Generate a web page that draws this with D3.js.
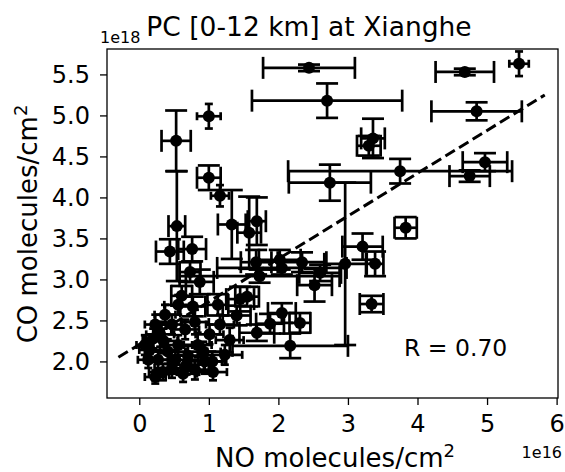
<!DOCTYPE html>
<html>
<head>
<meta charset="utf-8">
<script src="https://cdn.jsdelivr.net/npm/d3@7"></script>
<style>
  body { margin: 0; background: #fff; }
  text { font-family: "DejaVu Sans", sans-serif; fill: #000; }
</style>
</head>
<body>
<div class="chart"></div>
<script>
// NO column (1e16 molec/cm2) vs CO column (1e18 molec/cm2), with 1-sigma errors
var noX = [2.44, 2.70, 4.68, 5.46, 4.85, 4.97, 4.75, 3.75, 3.36, 3.30, 2.74, 3.83, 3.21, 3.39, 3.34, 2.96, 2.17,
    1.00, 0.53, 1.00, 1.16, 1.33, 0.54, 1.69, 1.58, 0.44, 0.76, 1.68, 0.73, 0.87, 0.61, 0.77, 1.13, 1.45, 1.55,
    1.40, 1.69, 1.88, 2.05, 2.31, 2.02, 2.34, 2.52, 2.60, 2.05, 1.73,
    0.23, 0.34, 0.47, 0.63, 0.80, 0.94, 1.06, 0.15, 0.27, 0.41, 0.56, 0.70, 0.84, 1.01, 0.30, 0.47, 0.66, 0.80,
    0.37, 0.56, 0.23, 1.23, 1.30, 1.16, 0.13, 0.08, 0.92, 1.05, 0.35, 0.52, 0.68, 0.20];
var coY = [5.58, 5.18, 5.53, 5.63, 5.05, 4.43, 4.26, 4.32, 4.72, 4.63, 4.18, 3.63, 3.40, 3.19, 2.70, 3.19, 2.19,
    4.99, 4.69, 4.24, 4.02, 3.67, 3.65, 3.71, 3.57, 3.34, 3.37, 3.21, 3.09, 2.97, 2.80, 2.67, 2.69, 2.76, 2.79,
    2.56, 2.35, 2.46, 2.59, 2.47, 3.24, 3.21, 2.93, 3.08, 3.14, 3.04,
    1.81, 1.87, 1.92, 1.85, 1.90, 2.00, 1.87, 2.14, 2.02, 2.12, 2.20, 2.07, 2.20, 2.33, 2.33, 2.45, 2.39, 2.48,
    2.57, 2.69, 2.45, 2.08, 2.26, 2.45, 2.02, 2.20, 2.12, 2.00, 2.25, 2.02, 1.96, 2.28];
var noErr = [0.66, 1.08, 0.42, 0.14, 0.65, 0.32, 0.29, 1.61, 0.17, 0.17, 0.59, 0.16, 0.29, 0.12, 0.17, 0.30, 0.83,
    0.17, 0.21, 0.17, 0.13, 0.20, 0.12, 0.13, 0.17, 0.20, 0.20, 0.22, 0.15, 0.20, 0.15, 0.18, 0.15, 0.20, 0.17,
    0.20, 0.25, 0.20, 0.20, 0.15, 0.30, 0.35, 0.25, 0.30, 0.93, 1.15,
    0.15, 0.20, 0.25, 0.20, 0.20, 0.25, 0.20, 0.15, 0.20, 0.25, 0.20, 0.25, 0.20, 0.20, 0.20, 0.15, 0.20, 0.20,
    0.15, 0.20, 0.15, 0.25, 0.20, 0.20, 0.15, 0.12, 0.25, 0.20, 0.20, 0.22, 0.25, 0.15];
var coErr = [0.04, 0.21, 0.04, 0.15, 0.11, 0.11, 0.07, 0.15, 0.24, 0.12, 0.22, 0.13, 0.16, 0.15, 0.10, 0.99, 0.15,
    0.15, 0.37, 0.15, 0.13, 0.42, 0.67, 0.29, 0.44, 0.15, 0.15, 0.15, 0.12, 0.15, 0.12, 0.12, 0.13, 0.15, 0.12,
    0.12, 0.10, 0.12, 0.12, 0.12, 0.12, 0.12, 0.20, 0.10, 0.08, 0.08,
    0.08, 0.10, 0.12, 0.10, 0.12, 0.15, 0.10, 0.12, 0.12, 0.15, 0.12, 0.12, 0.15, 0.12, 0.15, 0.12, 0.12, 0.15,
    0.12, 0.12, 0.12, 0.12, 0.15, 0.12, 0.10, 0.12, 0.12, 0.12, 0.15, 0.12, 0.12, 0.12];
// which errorbar group each point was drawn in ("a" wide caps, "b" short caps)
var group = ["a", "a", "a", "b", "a", "a", "a", "a", "a", "a", "a", "a", "a", "a", "a", "a", "a",
    "b", "a", "a", "b", "a", "a", "a", "a", "a", "a", "a", "a", "a", "a", "a", "a", "a", "a",
    "a", "a", "a", "a", "a", "a", "a", "a", "a", "a", "a",
    "b", "b", "b", "b", "b", "b", "b", "b", "b", "b", "b", "b", "b", "b", "b", "b", "b", "b",
    "b", "b", "b", "b", "b", "b", "b", "b", "b", "b", "b", "b", "b", "b"];

// regression line end points
var fitX = [-0.30, 5.83];
var fitY = [2.05, 5.25];

var xTicks = [0, 1, 2, 3, 4, 5, 6];
var yTicks = [2.0, 2.5, 3.0, 3.5, 4.0, 4.5, 5.0, 5.5];
var rText = "R = 0.70";

var width = 565, height = 472;
var margin = {top: 49, right: 7, bottom: 74, left: 107};

var svg = d3.select(".chart")
    .append("svg")
    .attr("width", width)
    .attr("height", height);

svg.append("rect")
    .attr("width", width)
    .attr("height", height)
    .style("fill", "#fff");

var x = d3.scaleLinear()
    .domain([-0.464, 6.02])
    .range([margin.left, width - margin.right]);

var y = d3.scaleLinear()
    .domain([1.554, 5.81])
    .range([height - margin.bottom, margin.top]);

var g = svg.append("g");

// dashed fit line
g.append("line")
    .attr("x1", x(fitX[0]))
    .attr("y1", y(fitY[0]))
    .attr("x2", x(fitX[1]))
    .attr("y2", y(fitY[1]))
    .style("stroke", "#000")
    .style("stroke-width", 3)
    .style("stroke-dasharray", "11,5");

var capLen = {a: 11, b: 4};
var pts = noX.map(function(d, i) {
    return {x: d, y: coY[i], xe: noErr[i], ye: coErr[i], cap: capLen[group[i]]};
});

var eb = g.append("g")
    .attr("class", "errbars")
    .style("stroke", "#000")
    .style("stroke-width", 2.7);

pts.forEach(function(d) {
    var cx = x(d.x), cy = y(d.y), cap = d.cap;
    var x0 = x(d.x - d.xe), x1 = x(d.x + d.xe);
    var y0 = y(d.y - d.ye), y1 = y(d.y + d.ye);
    eb.append("line").attr("x1", x0).attr("x2", x1).attr("y1", cy).attr("y2", cy);
    eb.append("line").attr("x1", cx).attr("x2", cx).attr("y1", y0).attr("y2", y1);
    // caps
    eb.append("line").attr("x1", x0).attr("x2", x0).attr("y1", cy - cap).attr("y2", cy + cap);
    eb.append("line").attr("x1", x1).attr("x2", x1).attr("y1", cy - cap).attr("y2", cy + cap);
    eb.append("line").attr("x1", cx - cap).attr("x2", cx + cap).attr("y1", y0).attr("y2", y0);
    eb.append("line").attr("x1", cx - cap).attr("x2", cx + cap).attr("y1", y1).attr("y2", y1);
});

g.append("g")
    .selectAll("circle")
    .data(pts)
    .enter().append("circle")
    .attr("cx", function(d) { return x(d.x); })
    .attr("cy", function(d) { return y(d.y); })
    .attr("r", 6)
    .style("fill", "#000");

// frame
svg.append("rect")
    .attr("x", margin.left)
    .attr("y", margin.top)
    .attr("width", width - margin.right - margin.left)
    .attr("height", height - margin.bottom - margin.top)
    .style("fill", "none")
    .style("stroke", "#000")
    .style("stroke-width", 1.3);

// axes
var xAxis = svg.append("g")
    .attr("transform", "translate(0," + (height - margin.bottom) + ")")
    .call(d3.axisBottom(x).tickValues(xTicks).tickFormat(d3.format("d")).tickSize(7).tickPadding(10));

var yAxis = svg.append("g")
    .attr("transform", "translate(" + margin.left + ",0)")
    .call(d3.axisLeft(y).tickValues(yTicks).tickFormat(d3.format(".1f")).tickSize(7).tickPadding(10));

[xAxis, yAxis].forEach(function(a) {
    a.select(".domain").remove();
    a.selectAll(".tick line").style("stroke", "#000").style("stroke-width", 1.3);
    a.selectAll(".tick text")
        .style("font-family", "DejaVu Sans")
        .style("font-size", "24px")
        .style("fill", "#000");
});

// offset labels
svg.append("text")
    .attr("x", 100)
    .attr("y", 43)
    .style("font-size", "16px")
    .text("1e18");

svg.append("text")
    .attr("x", 562)
    .attr("y", 458)
    .attr("text-anchor", "end")
    .style("font-size", "16px")
    .text("1e16");

// title
svg.append("text")
    .attr("x", 309)
    .attr("y", 36)
    .attr("text-anchor", "middle")
    .style("font-size", "26.5px")
    .text("PC [0-12 km] at Xianghe");

// x label
var xl = svg.append("text")
    .attr("x", 335)
    .attr("y", 467)
    .attr("text-anchor", "middle")
    .style("font-size", "26px");
xl.append("tspan").text("NO molecules/cm");
xl.append("tspan").attr("dy", -10).style("font-size", "18px").text("2");

// y label
var yl = svg.append("text")
    .attr("transform", "translate(37,224) rotate(-90)")
    .attr("text-anchor", "middle")
    .style("font-size", "26px");
yl.append("tspan").text("CO molecules/cm");
yl.append("tspan").attr("dy", -10).style("font-size", "18px").text("2");

// correlation
svg.append("text")
    .attr("x", 404)
    .attr("y", 356)
    .style("font-size", "23.5px")
    .text(rText);
</script>
</body>
</html>
